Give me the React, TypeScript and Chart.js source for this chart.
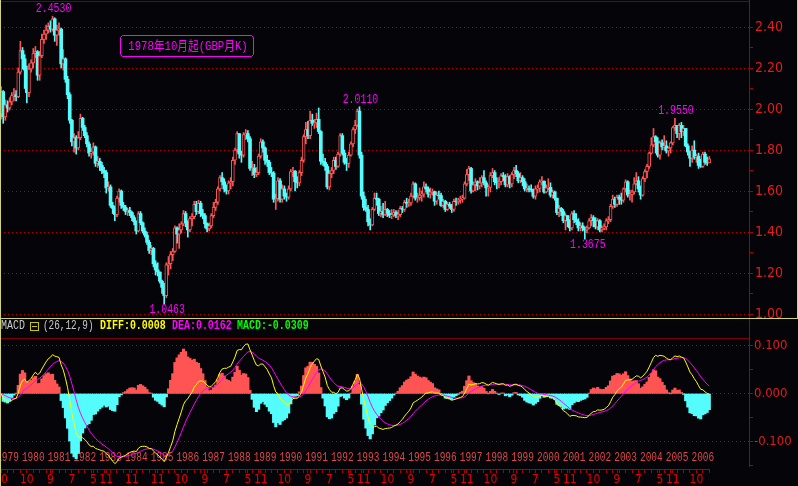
import React, { useEffect, useRef } from "react";
import { Chart, registerables } from "chart.js";

Chart.register(...registerables);

// ---------------- data (GBP monthly, from Oct 1978) ----------------
const startYear = 1978;
const startMonth = 10;
const firstOpen = 1.975;

const closes = [
  2.085, 1.962, 2.020,
  2.005, 2.035, 2.065, 2.070, 2.060, 2.180, 2.285, 2.245, 2.190, 2.080, 2.195, 2.225,
  2.270, 2.280, 2.165, 2.260, 2.340, 2.365, 2.385, 2.405, 2.390, 2.440, 2.360, 2.385,
  2.390, 2.220, 2.245, 2.145, 2.070, 1.945, 1.840, 1.860, 1.810, 1.860, 1.955, 1.910,
  1.870, 1.830, 1.785, 1.790, 1.815, 1.735, 1.745, 1.725, 1.700, 1.690, 1.615, 1.620,
  1.530, 1.515, 1.485, 1.565, 1.600, 1.530, 1.520, 1.500, 1.505, 1.495, 1.470, 1.450,
  1.405, 1.490, 1.445, 1.405, 1.385, 1.350, 1.310, 1.320, 1.245, 1.215, 1.205, 1.160,
  1.130, 1.090, 1.240, 1.245, 1.290, 1.305, 1.420, 1.390, 1.410, 1.440, 1.490, 1.445,
  1.410, 1.465, 1.475, 1.535, 1.500, 1.540, 1.490, 1.480, 1.440, 1.415, 1.430, 1.480,
  1.520, 1.545, 1.610, 1.665, 1.645, 1.610, 1.600, 1.640, 1.645, 1.750, 1.800, 1.880,
  1.780, 1.775, 1.875, 1.880, 1.855, 1.710, 1.712, 1.680, 1.690, 1.770, 1.840, 1.810,
  1.750, 1.740, 1.690, 1.688, 1.560, 1.562, 1.650, 1.560, 1.610, 1.575, 1.570, 1.610,
  1.695, 1.697, 1.645, 1.640, 1.690, 1.750, 1.865, 1.900, 1.870, 1.945, 1.930, 1.932,
  1.950, 1.890, 1.745, 1.740, 1.720, 1.620, 1.685, 1.700, 1.750, 1.720, 1.780, 1.870,
  1.785, 1.740, 1.735, 1.775, 1.830, 1.900, 1.920, 1.990, 1.775, 1.575, 1.520, 1.510,
  1.450, 1.435, 1.510, 1.565, 1.560, 1.490, 1.500, 1.485, 1.510, 1.490, 1.480, 1.483,
  1.495, 1.480, 1.485, 1.515, 1.510, 1.545, 1.540, 1.542, 1.575, 1.635, 1.565, 1.567,
  1.580, 1.585, 1.620, 1.610, 1.585, 1.595, 1.597, 1.550, 1.580, 1.578, 1.530, 1.550,
  1.510, 1.535, 1.525, 1.510, 1.550, 1.548, 1.555, 1.560, 1.565, 1.635, 1.680, 1.710,
  1.600, 1.630, 1.645, 1.625, 1.640, 1.665, 1.640, 1.615, 1.617, 1.675, 1.690, 1.645,
  1.640, 1.645, 1.675, 1.670, 1.630, 1.670, 1.635, 1.680, 1.700, 1.685, 1.650, 1.665,
  1.645, 1.610, 1.612, 1.608, 1.605, 1.575, 1.610, 1.613, 1.645, 1.648, 1.595, 1.615,
  1.618, 1.580, 1.595, 1.565, 1.495, 1.515, 1.500, 1.455, 1.480, 1.455, 1.420, 1.490,
  1.460, 1.450, 1.420, 1.430, 1.420, 1.410, 1.420, 1.455, 1.470, 1.455, 1.425, 1.455,
  1.410, 1.420, 1.425, 1.455, 1.460, 1.525, 1.560, 1.535, 1.570, 1.560, 1.555, 1.610,
  1.645, 1.580, 1.582, 1.595, 1.635, 1.650, 1.610, 1.580, 1.660, 1.695, 1.720, 1.785,
  1.825, 1.865, 1.840, 1.775, 1.835, 1.815, 1.820, 1.795, 1.810, 1.835, 1.910, 1.920,
  1.880, 1.920, 1.890, 1.905, 1.820, 1.790, 1.760, 1.800, 1.765, 1.770, 1.725, 1.720,
  1.780, 1.740, 1.737, 1.757,
];

const highs = [
  2.110, 2.090, 2.045,
  2.040, 2.055, 2.080, 2.100, 2.090, 2.200, 2.330, 2.300, 2.265, 2.210, 2.220, 2.240,
  2.295, 2.305, 2.285, 2.280, 2.365, 2.385, 2.410, 2.420, 2.430, 2.453, 2.445, 2.410,
  2.420, 2.395, 2.290, 2.250, 2.160, 2.080, 1.950, 1.880, 1.870, 1.890, 1.975, 1.960,
  1.920, 1.885, 1.840, 1.810, 1.835, 1.820, 1.770, 1.760, 1.740, 1.715, 1.700, 1.645,
  1.630, 1.545, 1.525, 1.575, 1.610, 1.605, 1.545, 1.530, 1.515, 1.520, 1.500, 1.480,
  1.455, 1.500, 1.500, 1.450, 1.420, 1.400, 1.360, 1.335, 1.325, 1.260, 1.250, 1.205,
  1.165, 1.150, 1.250, 1.280, 1.305, 1.320, 1.430, 1.425, 1.440, 1.450, 1.505, 1.500,
  1.455, 1.475, 1.490, 1.550, 1.550, 1.555, 1.550, 1.510, 1.490, 1.445, 1.445, 1.490,
  1.545, 1.560, 1.620, 1.675, 1.690, 1.660, 1.630, 1.650, 1.665, 1.765, 1.810, 1.890,
  1.880, 1.795, 1.885, 1.900, 1.895, 1.865, 1.745, 1.730, 1.715, 1.780, 1.855, 1.850,
  1.815, 1.775, 1.750, 1.715, 1.695, 1.585, 1.665, 1.660, 1.630, 1.625, 1.590, 1.625,
  1.705, 1.715, 1.700, 1.670, 1.700, 1.765, 1.875, 1.935, 1.940, 1.990, 1.975, 1.950,
  1.980, 2.005, 1.895, 1.780, 1.760, 1.730, 1.700, 1.715, 1.765, 1.765, 1.790, 1.880,
  1.880, 1.800, 1.760, 1.790, 1.840, 1.910, 1.945, 2.000, 2.011, 1.790, 1.595, 1.560,
  1.530, 1.465, 1.520, 1.590, 1.590, 1.565, 1.525, 1.540, 1.550, 1.515, 1.505, 1.510,
  1.510, 1.505, 1.505, 1.525, 1.525, 1.555, 1.565, 1.560, 1.590, 1.645, 1.640, 1.590,
  1.615, 1.600, 1.645, 1.635, 1.620, 1.615, 1.610, 1.600, 1.595, 1.600, 1.590, 1.560,
  1.555, 1.545, 1.545, 1.535, 1.560, 1.565, 1.565, 1.575, 1.580, 1.645, 1.705, 1.720,
  1.715, 1.645, 1.660, 1.650, 1.665, 1.675, 1.700, 1.650, 1.630, 1.690, 1.710, 1.700,
  1.665, 1.665, 1.685, 1.690, 1.680, 1.685, 1.675, 1.690, 1.715, 1.725, 1.695, 1.690,
  1.675, 1.660, 1.635, 1.625, 1.630, 1.610, 1.625, 1.630, 1.655, 1.670, 1.650, 1.630,
  1.660, 1.640, 1.605, 1.600, 1.565, 1.530, 1.520, 1.510, 1.490, 1.480, 1.460, 1.500,
  1.505, 1.490, 1.465, 1.445, 1.445, 1.425, 1.430, 1.465, 1.485, 1.480, 1.470, 1.465,
  1.460, 1.430, 1.440, 1.465, 1.475, 1.535, 1.580, 1.570, 1.580, 1.580, 1.590, 1.615,
  1.655, 1.650, 1.605, 1.605, 1.665, 1.690, 1.670, 1.625, 1.670, 1.705, 1.730, 1.790,
  1.860, 1.905, 1.870, 1.860, 1.845, 1.850, 1.870, 1.845, 1.815, 1.840, 1.915, 1.955,
  1.920, 1.930, 1.935, 1.920, 1.905, 1.830, 1.795, 1.820, 1.845, 1.780, 1.785, 1.755,
  1.790, 1.790, 1.765, 1.768,
];

const lows = [
  1.950, 1.930, 1.945,
  1.985, 1.995, 2.020, 2.040, 2.040, 2.055, 2.170, 2.195, 2.100, 2.030, 2.060, 2.180,
  2.200, 2.250, 2.140, 2.140, 2.250, 2.320, 2.340, 2.370, 2.375, 2.380, 2.330, 2.310,
  2.360, 2.200, 2.190, 2.130, 2.050, 1.930, 1.820, 1.790, 1.780, 1.800, 1.850, 1.895,
  1.860, 1.815, 1.770, 1.760, 1.775, 1.720, 1.715, 1.700, 1.685, 1.665, 1.590, 1.600,
  1.520, 1.490, 1.455, 1.475, 1.545, 1.515, 1.505, 1.485, 1.480, 1.480, 1.455, 1.435,
  1.390, 1.400, 1.435, 1.395, 1.375, 1.340, 1.295, 1.290, 1.230, 1.190, 1.185, 1.150,
  1.100, 1.0463, 1.080, 1.190, 1.220, 1.260, 1.300, 1.345, 1.320, 1.395, 1.430, 1.425,
  1.375, 1.400, 1.430, 1.465, 1.485, 1.490, 1.475, 1.465, 1.420, 1.400, 1.405, 1.420,
  1.470, 1.505, 1.535, 1.600, 1.630, 1.595, 1.585, 1.585, 1.610, 1.625, 1.730, 1.790,
  1.760, 1.740, 1.765, 1.850, 1.840, 1.700, 1.675, 1.665, 1.670, 1.680, 1.760, 1.790,
  1.730, 1.720, 1.680, 1.670, 1.545, 1.510, 1.550, 1.545, 1.545, 1.560, 1.550, 1.560,
  1.600, 1.670, 1.600, 1.615, 1.625, 1.675, 1.740, 1.830, 1.855, 1.855, 1.920, 1.905,
  1.910, 1.880, 1.730, 1.725, 1.700, 1.610, 1.605, 1.665, 1.685, 1.705, 1.715, 1.770,
  1.775, 1.730, 1.700, 1.715, 1.770, 1.815, 1.880, 1.915, 1.760, 1.560, 1.505, 1.500,
  1.430, 1.410, 1.430, 1.505, 1.530, 1.480, 1.475, 1.470, 1.480, 1.475, 1.470, 1.465,
  1.475, 1.470, 1.460, 1.475, 1.495, 1.500, 1.520, 1.525, 1.530, 1.570, 1.555, 1.545,
  1.555, 1.550, 1.570, 1.595, 1.570, 1.565, 1.580, 1.530, 1.535, 1.560, 1.525, 1.520,
  1.500, 1.505, 1.515, 1.495, 1.500, 1.530, 1.535, 1.540, 1.545, 1.560, 1.625, 1.650,
  1.590, 1.595, 1.600, 1.605, 1.610, 1.620, 1.630, 1.575, 1.575, 1.595, 1.665, 1.630,
  1.610, 1.615, 1.630, 1.650, 1.620, 1.620, 1.615, 1.620, 1.660, 1.670, 1.640, 1.640,
  1.625, 1.600, 1.595, 1.595, 1.595, 1.565, 1.560, 1.590, 1.595, 1.630, 1.590, 1.590,
  1.605, 1.570, 1.565, 1.555, 1.485, 1.475, 1.480, 1.445, 1.410, 1.425, 1.405, 1.410,
  1.445, 1.435, 1.405, 1.405, 1.405, 1.3675, 1.395, 1.415, 1.430, 1.425, 1.415, 1.410,
  1.400, 1.400, 1.410, 1.410, 1.440, 1.450, 1.515, 1.520, 1.525, 1.535, 1.535, 1.545,
  1.595, 1.570, 1.555, 1.545, 1.585, 1.630, 1.595, 1.560, 1.575, 1.645, 1.665, 1.710,
  1.780, 1.815, 1.785, 1.765, 1.755, 1.800, 1.800, 1.785, 1.770, 1.785, 1.825, 1.895,
  1.860, 1.850, 1.860, 1.870, 1.815, 1.775, 1.720, 1.740, 1.755, 1.740, 1.710, 1.715,
  1.715, 1.730, 1.725, 1.738,
];

const priceTickValues = [1.0, 1.1, 1.2, 1.3, 1.4, 1.5, 1.6, 1.7, 1.8, 1.9, 2.0, 2.1, 2.2, 2.3, 2.4];
const macdTickValues = [0.1, 0.05, 0, -0.05, -0.1, -0.15];
const markedHighIdx = [24, 167, 314];
const markedLowIdx = [76, 272];
const monthTickDates = [
  "1978-10", "1979-10", "1980-09", "1981-07", "1982-05", "1982-11", "1983-11", "1984-11",
  "1985-10", "1986-09", "1987-07", "1988-05", "1988-11", "1989-10", "1990-09", "1991-07",
  "1992-05", "1992-11", "1993-10", "1994-09", "1995-07", "1996-05", "1996-11", "1997-10",
  "1998-09", "1999-07", "2000-05", "2000-11", "2001-10", "2002-09", "2003-07", "2004-05",
  "2004-11", "2005-10",
];
const macdShort = 12;
const macdLong = 26;
const macdSignal = 9;
const headerParams = "(26,12,9)";
const headerDiff = "DIFF:0.0008";
const headerDea = "DEA:0.0162";
const headerMacd = "MACD:-0.0309";
const titleText = "1978年10月起(GBP月K)";
const slotCount = 349;

// ---------------- derived ----------------
const opens = closes.map((c, i) => (i === 0 ? firstOpen : closes[i - 1]));
const monthOf = (i: number) => ((startMonth - 1 + i) % 12) + 1;
const yearOf = (i: number) => startYear + Math.floor((startMonth - 1 + i) / 12);
const idxOfDate = (d: string) => (Number(d.slice(0, 4)) - startYear) * 12 + (Number(d.slice(5)) - startMonth);
const categories = Array.from({ length: slotCount }, (_, i) =>
  i < closes.length ? `${yearOf(i)}-${String(monthOf(i)).padStart(2, "0")}` : `+${i}`
);
const isUp = (i: number) => closes[i] >= opens[i];

function ema(values: number[], n: number) {
  const k = 2 / (n + 1);
  const out: number[] = [];
  values.forEach((v, i) => out.push(i === 0 ? v : out[i - 1] + k * (v - out[i - 1])));
  return out;
}
const emaS = ema(closes, macdShort);
const emaL = ema(closes, macdLong);
const diff = closes.map((_, i) => emaS[i] - emaL[i]);
const dea = ema(diff, macdSignal);
const hist = diff.map((d, i) => 2 * (d - dea[i]));

const monthLabelMap = new Map<number, string>(
  monthTickDates.map((d) => [idxOfDate(d), String(Number(d.slice(5)))])
);
const xTickIdx: number[] = [];
for (let i = 0; i < closes.length; i++) {
  if (monthOf(i) % 3 === 1 || monthLabelMap.has(i)) xTickIdx.push(i);
}

// ---------------- styles ----------------
const BG = "#050408";
const RED = "#ff5454";
const CYAN = "#54fcfc";
const GREEN = "#00ff00";
const AXIS_RED = "#a80000";
const GRID_RED = "#b40000";
const DARK_RED = "#7c0000";
const LABEL_RED = "#e41c1c";
const YEAR_RED = "#d84a4a";
const MAGENTA = "#ff00ff";
const FRAME_YELLOW = "#d2d278";
const MONO = '"Liberation Mono", "DejaVu Sans Mono", "Noto Sans CJK SC", monospace';
const NARROW = '"Liberation Sans Narrow", "DejaVu Sans Condensed", "Liberation Mono", monospace';

function textAt(
  ctx: CanvasRenderingContext2D,
  s: string,
  x: number,
  y: number,
  color: string,
  opt: { size?: number; bold?: boolean; align?: string; sx?: number } = {}
) {
  const size = opt.size ?? 13;
  const sx = opt.sx ?? 0.77;
  ctx.save();
  ctx.font = `${opt.bold ? "bold " : ""}${size}px ${MONO}`;
  ctx.fillStyle = color;
  ctx.textBaseline = "middle";
  ctx.textAlign = "left";
  const w = ctx.measureText(s).width * sx;
  let left = x;
  if (opt.align === "center") left = x - w / 2;
  else if (opt.align === "right") left = x - w;
  ctx.translate(left, y);
  ctx.scale(sx, 1);
  ctx.fillText(s, 0, 0);
  ctx.restore();
}

const zeroPad = (s: any) => {
  s.paddingTop = 0;
  s.paddingBottom = 0;
  s.paddingLeft = 0;
  s.paddingRight = 0;
};

const mainDecor = {
  id: "mainDecor",
  afterDraw(chart: any) {
    const { ctx, chartArea, scales } = chart;
    const W = chart.width;
    const H = chart.height;
    const xs = scales.x;
    const ys = scales.y;
    ctx.save();
    ctx.fillStyle = DARK_RED;
    ctx.fillRect(0, 1, Math.round(chartArea.right), 1);
    ctx.fillStyle = AXIS_RED;
    ctx.fillRect(Math.round(chartArea.right), 0, 1, H);
    ctx.fillStyle = FRAME_YELLOW;
    ctx.fillRect(0, 0, 1, H);
    ctx.fillRect(W - 1, 0, 1, H);
    ctx.fillRect(0, H - 1, W, 1);
    markedHighIdx.forEach((i) => {
      const px = xs.getPixelForValue(i);
      const py = ys.getPixelForValue(highs[i]);
      textAt(ctx, highs[i].toFixed(4), px + 1, py - 7.5, MAGENTA, { size: 13, sx: 0.76, align: "center" });
    });
    markedLowIdx.forEach((i) => {
      const px = xs.getPixelForValue(i);
      const py = ys.getPixelForValue(lows[i]);
      textAt(ctx, lows[i].toFixed(4), px + 3, py + 5.5, MAGENTA, { size: 13, sx: 0.76, align: "center" });
    });
    const bx = 120.5, by = 35.5, bw = 133, bh = 21, c = 2;
    ctx.strokeStyle = MAGENTA;
    ctx.lineWidth = 1;
    ctx.beginPath();
    ctx.moveTo(bx + c, by);
    ctx.lineTo(bx + bw - c, by);
    ctx.lineTo(bx + bw, by + c);
    ctx.lineTo(bx + bw, by + bh - c);
    ctx.lineTo(bx + bw - c, by + bh);
    ctx.lineTo(bx + c, by + bh);
    ctx.lineTo(bx, by + bh - c);
    ctx.lineTo(bx, by + c);
    ctx.closePath();
    ctx.stroke();
    textAt(ctx, titleText, bx + bw / 2 + 1, by + bh / 2 + 0.5, MAGENTA, { size: 13, sx: 0.82, align: "center" });
    ctx.restore();
  },
};

const macdDecor = {
  id: "macdDecor",
  beforeDatasetsDraw(chart: any) {
    const { ctx, chartArea, scales } = chart;
    const xs = scales.x;
    for (let i = 0; i < closes.length; i++) {
      if (monthOf(i) === 1) {
        textAt(ctx, String(yearOf(i)), xs.getPixelForValue(i), chartArea.bottom - 11.5, YEAR_RED, {
          size: 12,
          sx: 0.79,
          align: "center",
        });
      }
    }
  },
  afterDraw(chart: any) {
    const { ctx, chartArea, scales } = chart;
    const xs = scales.x;
    const ys = scales.y;
    const H = chart.height;
    const right = Math.round(chartArea.right);
    ctx.save();
    ctx.fillStyle = DARK_RED;
    ctx.fillRect(0, Math.round(chartArea.top), right, 1);
    ctx.fillStyle = AXIS_RED;
    ctx.fillRect(right, 0, 1, Math.round(ys.getPixelForValue(-0.15)) + 1);
    ctx.fillRect(0, Math.round(chartArea.bottom), Math.round(xs.getPixelForValue(closes.length - 1)) + 1, 1);
    ctx.fillStyle = FRAME_YELLOW;
    ctx.fillRect(0, 0, 1, H);
    const hy = 6.5;
    textAt(ctx, "MACD", 1, hy, "#c8c8c8", { size: 12, sx: 0.83 });
    ctx.strokeStyle = "#c8c800";
    ctx.lineWidth = 1;
    ctx.strokeRect(30.5, 3.5, 8, 8);
    ctx.fillStyle = "#c8c800";
    ctx.fillRect(32, 7, 5, 1);
    textAt(ctx, headerParams, 43, hy, "#c8c8c8", { size: 12, sx: 0.78 });
    textAt(ctx, headerDiff, 100, hy, "#ffff00", { size: 12, bold: true, sx: 0.83 });
    textAt(ctx, headerDea, 172, hy, MAGENTA, { size: 12, bold: true, sx: 0.83 });
    textAt(ctx, headerMacd, 237, hy, GREEN, { size: 12, bold: true, sx: 0.83 });
    ctx.restore();
  },
};

const majorPrice = (v: number) => Math.round(v * 10) % 2 === 0;
const majorMacd = (v: number) => Math.abs(Math.round(v * 20)) % 2 === 0;

export default function App() {
  const mainRef = useRef<HTMLCanvasElement>(null);
  const macdRef = useRef<HTMLCanvasElement>(null);

  useEffect(() => {
    document.body.style.margin = "0";
    document.body.style.background = BG;

    const main = new Chart(mainRef.current as HTMLCanvasElement, {
      type: "bar",
      data: {
        labels: categories,
        datasets: [
          {
            label: "body",
            data: opens.map((o, i) => [o, closes[i]]),
            grouped: false,
            barThickness: 3,
            borderSkipped: false,
            backgroundColor: (c: any) => (isUp(c.dataIndex) ? BG : CYAN),
            borderColor: (c: any) => (isUp(c.dataIndex) ? RED : CYAN),
            borderWidth: (c: any) => (isUp(c.dataIndex) ? 1 : 0),
          } as any,
          {
            label: "wick",
            data: lows.map((l, i) => [Math.min(l, opens[i], closes[i]), Math.max(highs[i], opens[i], closes[i])]),
            grouped: false,
            barThickness: 1,
            borderWidth: 0,
            backgroundColor: (c: any) => (isUp(c.dataIndex) ? RED : CYAN),
          } as any,
        ],
      },
      options: {
        responsive: false,
        animation: false,
        devicePixelRatio: 1,
        events: [],
        layout: { padding: { top: 2, bottom: 2, left: 0, right: 0 }, autoPadding: false },
        plugins: { legend: { display: false }, tooltip: { enabled: false } },
        scales: {
          x: { display: false, offset: true, afterFit: zeroPad },
          y: {
            position: "right",
            min: 0.98537,
            max: 2.522,
            afterBuildTicks: (s: any) => {
              s.ticks = priceTickValues.map((v) => ({ value: v }));
            },
            afterFit: (s: any) => {
              s.width = 49;
              zeroPad(s);
            },
            grid: {
              color: (c: any) => (c.tick && majorPrice(c.tick.value) ? GRID_RED : "rgba(0,0,0,0)"),
              tickColor: AXIS_RED,
              tickLength: 4,
              lineWidth: 1,
            },
            border: { display: true, color: AXIS_RED, dash: [1, 3] },
            ticks: {
              color: LABEL_RED,
              font: { family: NARROW, size: 14 },
              padding: 2,
              callback: (v: any) => (majorPrice(Number(v)) ? Number(v).toFixed(2) : ""),
            },
          },
        },
      } as any,
      plugins: [mainDecor],
    });

    const macd = new Chart(macdRef.current as HTMLCanvasElement, {
      type: "bar",
      data: {
        labels: categories,
        datasets: [
          {
            type: "line",
            label: "DIFF",
            data: diff,
            borderColor: "#ffff00",
            borderWidth: 1,
            pointRadius: 0,
            tension: 0,
            order: 0,
          } as any,
          {
            type: "line",
            label: "DEA",
            data: dea,
            borderColor: MAGENTA,
            borderWidth: 1,
            pointRadius: 0,
            tension: 0,
            order: 1,
          } as any,
          {
            type: "bar",
            label: "MACD",
            data: hist,
            order: 2,
            barPercentage: 1,
            categoryPercentage: 1,
            inflateAmount: 0.5,
            backgroundColor: (c: any) => (hist[c.dataIndex] >= 0 ? RED : CYAN),
            borderWidth: 0,
          } as any,
        ],
      },
      options: {
        responsive: false,
        animation: false,
        devicePixelRatio: 1,
        events: [],
        layout: { padding: { top: 19, bottom: 0, left: 0, right: 0 }, autoPadding: false },
        plugins: { legend: { display: false }, tooltip: { enabled: false } },
        scales: {
          x: {
            offset: true,
            afterBuildTicks: (s: any) => {
              s.ticks = xTickIdx.map((v) => ({ value: v }));
            },
            afterFit: (s: any) => {
              s.height = 17;
              zeroPad(s);
            },
            grid: {
              display: true,
              drawOnChartArea: false,
              drawTicks: true,
              tickLength: 4,
              tickColor: AXIS_RED,
              offset: false,
            },
            border: { display: false },
            ticks: {
              autoSkip: false,
              maxRotation: 0,
              minRotation: 0,
              color: "#e80000",
              font: { family: NARROW, size: 12 },
              padding: 0,
              callback: (v: any) => monthLabelMap.get(Number(v)) ?? "",
            },
          },
          y: {
            position: "right",
            min: -0.15688,
            max: 0.11604,
            afterBuildTicks: (s: any) => {
              s.ticks = macdTickValues.map((v) => ({ value: v }));
            },
            afterFit: (s: any) => {
              s.width = 49;
              zeroPad(s);
            },
            grid: {
              color: (c: any) => (c.tick && majorMacd(c.tick.value) ? GRID_RED : "rgba(0,0,0,0)"),
              tickColor: AXIS_RED,
              tickLength: 4,
              lineWidth: 1,
            },
            border: { display: false, dash: [1, 3] },
            ticks: {
              color: LABEL_RED,
              font: { family: NARROW, size: 13 },
              padding: 1,
              callback: (v: any) => (majorMacd(Number(v)) ? Number(v).toFixed(3) : ""),
            },
          },
        },
      } as any,
      plugins: [macdDecor],
    });

    return () => {
      main.destroy();
      macd.destroy();
    };
  }, []);

  return (
    <div style={{ position: "fixed", left: 0, top: 0, width: 798, height: 486, background: BG, overflow: "hidden" }}>
      <canvas
        ref={mainRef}
        width={798}
        height={319}
        style={{ position: "absolute", left: 0, top: 0, width: 798, height: 319, display: "block" }}
      />
      <canvas
        ref={macdRef}
        width={798}
        height={167}
        style={{ position: "absolute", left: 0, top: 319, width: 798, height: 167, display: "block" }}
      />
    </div>
  );
}
